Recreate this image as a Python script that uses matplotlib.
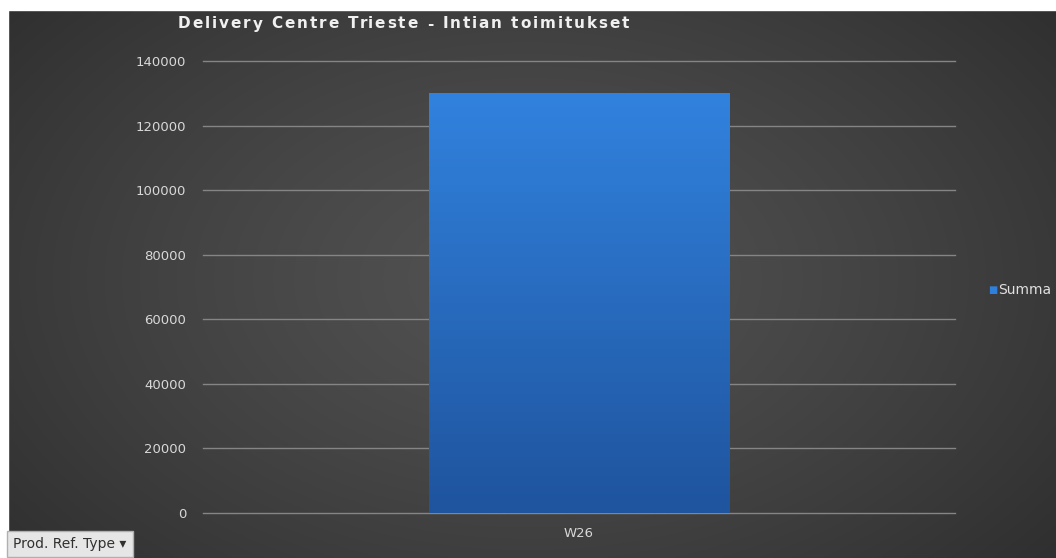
import numpy as np
import matplotlib.pyplot as plt
from matplotlib.patches import Rectangle

# data
categories = ["W26"]
values = [130000]
series_name = "Summa"
title = "Delivery Centre Trieste - Intian toimitukset"
yticks = [0, 20000, 40000, 60000, 80000, 100000, 120000, 140000]

W, H = 1056, 558
fig = plt.figure(figsize=(W / 100, H / 100), dpi=100)

# background: soft radial gray gradient, white margin top/left
bg = fig.add_axes([0, 0, 1, 1])
yy, xx = np.mgrid[0:1:200j, 0:1:400j]
r = np.sqrt(((xx - 0.5) / 0.7) ** 2 + ((yy - 0.5) / 0.85) ** 2)
shade = np.clip(0.32 - 0.15 * r ** 1.3, 0.17, 0.32)
bg.imshow(np.dstack([shade] * 3), extent=[0, 1, 0, 1], aspect="auto",
          origin="lower", interpolation="bilinear")
bg.add_patch(Rectangle((0, 1 - 10 / H), 1, 10 / H, color="white", zorder=3))
bg.add_patch(Rectangle((0, 0), 8 / W, 1, color="white", zorder=3))
bg.set_xlim(0, 1)
bg.set_ylim(0, 1)
bg.axis("off")

# plot area
ax = fig.add_axes([203 / W, 1 - 513 / H, (955 - 203) / W, (513 - 61) / H])
ax.patch.set_alpha(0)
ax.set_ylim(0, 140000)
ax.set_xlim(-0.5, 0.5)
ax.set_yticks(yticks)
for t in yticks:
    ax.axhline(t, color="#858585", linewidth=1, zorder=1, clip_on=False)
for s in ax.spines.values():
    s.set_visible(False)
ax.tick_params(axis="both", length=0, colors="#d8d8d8", labelsize=9.5)
ax.tick_params(axis="y", pad=12)
ax.tick_params(axis="x", pad=10)

x = np.arange(len(categories))
bars = ax.bar(x, values, width=0.4, color="#2a6fc8", zorder=2)
ax.set_xticks(x)
ax.set_xticklabels(categories)

# vertical gradient fill for the bars
grad = np.linspace(0, 1, 256).reshape(-1, 1)
top = np.array([0x31, 0x82, 0xde]) / 255
bot = np.array([0x1f, 0x54, 0x9e]) / 255
cols = bot + (top - bot) * grad[..., None]
for b in bars:
    x0, y0, w, h = b.get_x(), b.get_y(), b.get_width(), b.get_height()
    im = ax.imshow(cols, extent=[x0, x0 + w, y0, y0 + h], origin="lower",
                   aspect="auto", zorder=3)
    im.set_clip_path(b)
ax.set_xlim(-0.5, 0.5)
ax.set_ylim(0, 140000)

# title with letter spacing (advance measured from growing prefixes)
fig.canvas.draw()
renderer = fig.canvas.get_renderer()
tmp = fig.text(0, 0, "", fontsize=11, fontweight="bold")


def prefix_width(s):
    # pad with a visible char so trailing spaces count
    tmp.set_text(s + "|")
    w1 = tmp.get_window_extent(renderer).width
    tmp.set_text("|")
    return w1 - tmp.get_window_extent(renderer).width


for i, ch in enumerate(title):
    if ch == " ":
        continue
    cx = 178 + prefix_width(title[:i]) + i * 1.9
    fig.text(cx / W, 1 - 24 / H, ch, color="#f0f0f0", fontsize=11,
             fontweight="bold", va="center", ha="left")
tmp.remove()

# legend
fig.text(993 / W, 1 - 290 / H, "\u25a0", color="#2f7fdc", fontsize=7,
         va="center", ha="center")
fig.text(998 / W, 1 - 290 / H, series_name, color="#e0e0e0", fontsize=10,
         va="center", ha="left")

# field button
fig.text(13 / W, 1 - 544 / H, "Prod. Ref. Type \u25be", color="#303030",
         fontsize=10, va="center", ha="left",
         bbox=dict(boxstyle="square,pad=0.45", fc="#e6e6e6", ec="#b0b0b0"))

fig.savefig("out.png", dpi=100)
